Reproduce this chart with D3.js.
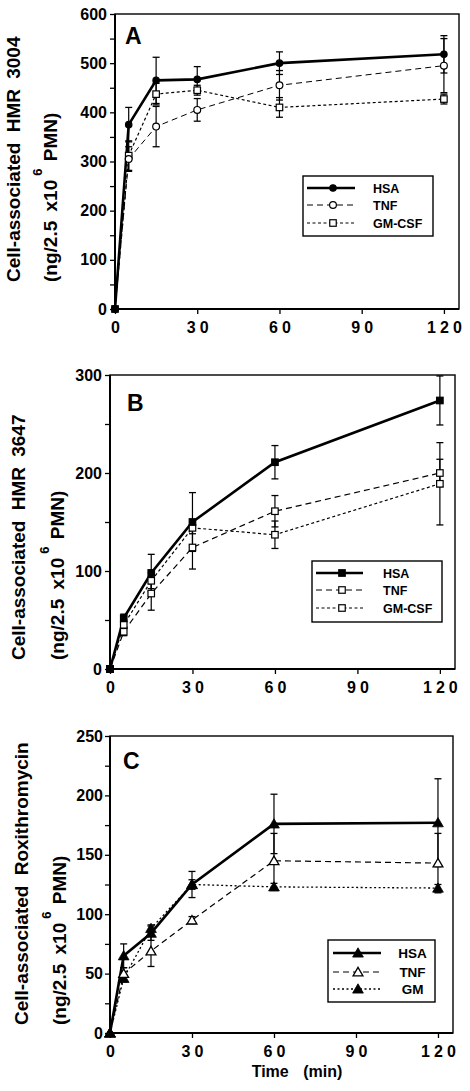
<!DOCTYPE html>
<html><head><meta charset="utf-8">
<script src="https://cdn.jsdelivr.net/npm/d3@7"></script>
<style>
body{margin:0;background:#fff}
text{font-family:"Liberation Sans",Arial,Helvetica,sans-serif;font-weight:bold;fill:#000}
</style>
</head><body>
<svg id="chart" width="470" height="1091" xmlns="http://www.w3.org/2000/svg"></svg>
<script>
// ---------------- DATA ----------------
const times = [0, 5, 15, 30, 60, 120];
const xTickValues = [0, 30, 60, 90, 120];
const xTickLabels = ["0", "30", "60", "90", "120"];
const legendNamesAB = ["HSA", "TNF", "GM-CSF"];
const legendNamesC = ["HSA", "TNF", "GM"];

// Panel A: HMR 3004
const hsaA = [0, 375, 465, 467, 500, 518];
const hsaAErr = [0, 35, 47, 26, 23, 38];
const tnfA = [0, 305, 371, 405, 455, 495];
const tnfAErr = [0, 25, 41, 23, 30, 55];
const gmA = [0, 312, 437, 445, 410, 427];
const gmAErr = [0, 30, 22, 10, 20, 10];
const yTicksA = [0, 100, 200, 300, 400, 500, 600];
const yMinorA = [50, 150, 250, 350, 450, 550];

// Panel B: HMR 3647
const hsaB = [0, 52, 98, 150, 211, 274];
const hsaBErr = [0, 4, 19, 30, 17, 25];
const tnfB = [0, 38, 77, 124, 161, 200];
const tnfBErr = [0, 4, 17, 22, 16, 14];
const gmB = [0, 45, 90, 144, 137, 189];
const gmBErr = [0, 4, 8, 6, 14, 42];
const yTicksB = [0, 100, 200, 300];
const yMinorB = [50, 150, 250];

// Panel C: Roxithromycin
const hsaC = [0, 65, 84, 125, 176, 177];
const hsaCErr = [0, 10, 6, 11, 25, 37];
const tnfC = [0, 50, 69, 95, 145, 143];
const tnfCErr = [0, 5, 13, 3, 23, 25];
const gmC = [0, 46, 88, 125, 123, 122];
const gmCErr = [0, 3, 3, 4, 3, 3];
const yTicksC = [0, 50, 100, 150, 200, 250];
const yMinorC = [25, 75, 125, 175, 225];

// ---------------- DRAW ----------------
const svg = d3.select("#chart");

function marker(g, type, fill, x, y) {
  if (type === "circle") {
    g.append("circle").attr("cx", x).attr("cy", y).attr("r", fill ? 3.2 : 3.4)
      .attr("fill", fill ? "#000" : "#fff").attr("stroke", "#000").attr("stroke-width", 1.2);
  } else if (type === "square") {
    const s = 6.5;
    g.append("rect").attr("x", x - s / 2).attr("y", y - s / 2).attr("width", s).attr("height", s)
      .attr("fill", fill ? "#000" : "#fff").attr("stroke", "#000").attr("stroke-width", 1.2);
  } else if (type === "triangle") {
    const sym = d3.symbol().type(d3.symbolTriangle).size(fill ? 50 : 42);
    g.append("path").attr("d", sym()).attr("transform", `translate(${x},${y + 1})`)
      .attr("fill", fill ? "#000" : "#fff").attr("stroke", "#000").attr("stroke-width", fill ? 0.8 : 1.3);
  }
}

function drawPanel(cfg) {
  const f = cfg.frame;
  const x = d3.scaleLinear().domain([0, 125.5]).range([f.l, f.r]);
  const y = d3.scaleLinear().domain([0, cfg.ymax]).range([f.b, f.t]);
  const g = svg.append("g");

  // frame
  g.append("rect").attr("x", f.l).attr("y", f.t).attr("width", f.r - f.l).attr("height", f.b - f.t)
    .attr("fill", "none").attr("stroke", "#000").attr("stroke-width", 1.4);
  g.append("line").attr("x1", f.l).attr("x2", f.l).attr("y1", f.t).attr("y2", f.b)
    .attr("stroke", "#000").attr("stroke-width", 2);
  g.append("line").attr("x1", f.l).attr("x2", f.r).attr("y1", f.b).attr("y2", f.b)
    .attr("stroke", "#000").attr("stroke-width", 2);

  // y axis
  const ya = g.append("g").attr("transform", `translate(${f.l},0)`)
    .call(d3.axisLeft(y).tickValues(cfg.yTicks).tickSize(5).tickPadding(cfg.yPad).tickSizeOuter(0));
  ya.select(".domain").remove();
  ya.selectAll("line").attr("stroke-width", 1.3);
  ya.selectAll("text").attr("font-size", 16).attr("font-family", null);
  const ym = g.append("g").attr("transform", `translate(${f.l},0)`)
    .call(d3.axisLeft(y).tickValues(cfg.yMinor).tickSize(5).tickFormat("").tickSizeOuter(0));
  ym.select(".domain").remove();
  ym.selectAll("line").attr("stroke-width", 1.3);

  // x axis
  const xa = g.append("g").attr("transform", `translate(0,${f.b})`)
    .call(d3.axisBottom(x).tickValues(xTickValues).tickFormat((d, i) => xTickLabels[i])
      .tickSize(5).tickPadding(8).tickSizeOuter(0));
  xa.select(".domain").remove();
  xa.selectAll("line").attr("stroke-width", 1.3);
  xa.selectAll("text").attr("font-size", 16).attr("font-family", null)
    .style("letter-spacing", "4px").attr("dx", 2);

  // error bars
  cfg.series.forEach(s => {
    s.values.forEach((v, i) => {
      const e = s.err[i];
      if (!e) return;
      const cx = x(times[i]);
      g.append("line").attr("x1", cx).attr("x2", cx).attr("y1", y(v - e)).attr("y2", y(v + e))
        .attr("stroke", "#000").attr("stroke-width", 1.2);
      [v - e, v + e].forEach(t => g.append("line").attr("x1", cx - 3.5).attr("x2", cx + 3.5)
        .attr("y1", y(t)).attr("y2", y(t)).attr("stroke", "#000").attr("stroke-width", 1.3));
    });
  });

  // lines
  const line = d3.line().x((d, i) => x(times[i])).y(d => y(d));
  cfg.series.slice().reverse().forEach(s => {
    g.append("path").datum(s.values).attr("d", line).attr("fill", "none")
      .attr("stroke", "#000").attr("stroke-width", s.width)
      .attr("stroke-dasharray", s.dash || null);
  });
  // markers
  cfg.series.slice().reverse().forEach(s => {
    s.values.forEach((v, i) => marker(g, s.marker, s.fill, x(times[i]), y(v)));
  });

  // panel letter
  g.append("text").attr("x", cfg.letterPos[0]).attr("y", cfg.letterPos[1])
    .attr("font-size", 23).text(cfg.letter);

  // legend
  const L = cfg.legend;
  g.append("rect").attr("x", L.x).attr("y", L.y).attr("width", L.w).attr("height", L.h)
    .attr("fill", "#fff").attr("stroke", "#000").attr("stroke-width", 1.4);
  cfg.series.forEach((s, i) => {
    const ry = L.rows[i];
    g.append("line").attr("x1", L.x1).attr("x2", L.x2).attr("y1", ry).attr("y2", ry)
      .attr("stroke", "#000").attr("stroke-width", s.width).attr("stroke-dasharray", s.dash || null);
    marker(g, s.marker, s.fill, L.mx, ry);
    g.append("text").attr("x", L.tx).attr("y", ry + 4.5).attr("font-size", L.fs)
      .attr("text-anchor", L.anchor).text(cfg.names[i]);
  });

  // y label (rotated)
  const yl = cfg.ylab;
  g.append("text").attr("transform", `translate(${yl.x1},${yl.y}) rotate(-90)`)
    .attr("font-size", 19).style("word-spacing", yl.ws + "px").text(yl.line1);
  const t2 = g.append("text").attr("transform", `translate(${yl.x2},${yl.y}) rotate(-90)`)
    .attr("font-size", 19).style("word-spacing", "4px");
  t2.append("tspan").text("(ng/2.5 x10");
  t2.append("tspan").attr("font-size", 13).attr("dy", -15).attr("dx", 4).text("6");
  t2.append("tspan").attr("dy", 15).attr("dx", -2).text(" PMN)");
}

drawPanel({
  frame: {l: 115, r: 459, t: 14, b: 309}, ymax: 600, yTicks: yTicksA, yMinor: yMinorA, yPad: 3,
  letter: "A", letterPos: [125, 44], names: legendNamesAB,
  series: [
    {values: hsaA, err: hsaAErr, marker: "circle", fill: true, width: 2.6},
    {values: tnfA, err: tnfAErr, marker: "circle", fill: false, width: 1, dash: "6,4"},
    {values: gmA, err: gmAErr, marker: "square", fill: false, width: 1.2, dash: "3,2.5"}
  ],
  legend: {x: 303, y: 176, w: 130, h: 60, rows: [188, 205, 223], x1: 307, x2: 355, mx: 333, tx: 373, fs: 12.5, anchor: "start"},
  ylab: {x1: 20, x2: 57, y: 282, line1: "Cell-associated HMR 3004", ws: 5}
});

drawPanel({
  frame: {l: 110, r: 455, t: 375, b: 669}, ymax: 300, yTicks: yTicksB, yMinor: yMinorB, yPad: 3,
  letter: "B", letterPos: [127, 411], names: legendNamesAB,
  series: [
    {values: hsaB, err: hsaBErr, marker: "square", fill: true, width: 2.6},
    {values: tnfB, err: tnfBErr, marker: "square", fill: false, width: 1.2, dash: "6,4"},
    {values: gmB, err: gmBErr, marker: "square", fill: false, width: 1.2, dash: "3,2.5"}
  ],
  legend: {x: 312, y: 561, w: 130, h: 61, rows: [573, 590, 608], x1: 316, x2: 363, mx: 342, tx: 383, fs: 12.5, anchor: "start"},
  ylab: {x1: 25, x2: 64, y: 660, line1: "Cell-associated HMR 3647", ws: 5}
});

drawPanel({
  frame: {l: 110, r: 453, t: 736, b: 1033}, ymax: 250, yTicks: yTicksC, yMinor: yMinorC, yPad: 2,
  letter: "C", letterPos: [123, 769], names: legendNamesC,
  series: [
    {values: hsaC, err: hsaCErr, marker: "triangle", fill: true, width: 2.6},
    {values: tnfC, err: tnfCErr, marker: "triangle", fill: false, width: 1.2, dash: "6,4"},
    {values: gmC, err: gmCErr, marker: "triangle", fill: true, width: 1.3, dash: "2,2.5"}
  ],
  legend: {x: 328, y: 940, w: 107, h: 62, rows: [953, 972, 989], x1: 333, x2: 381, mx: 358, tx: 412.5, fs: 13.5, anchor: "middle"},
  ylab: {x1: 28, x2: 66, y: 1025, line1: "Cell-associated Roxithromycin", ws: 5}
});

svg.append("text").attr("x", 297).attr("y", 1077).attr("text-anchor", "middle")
  .attr("font-size", 16).style("word-spacing", "10px").text("Time (min)");
</script>
</body></html>
